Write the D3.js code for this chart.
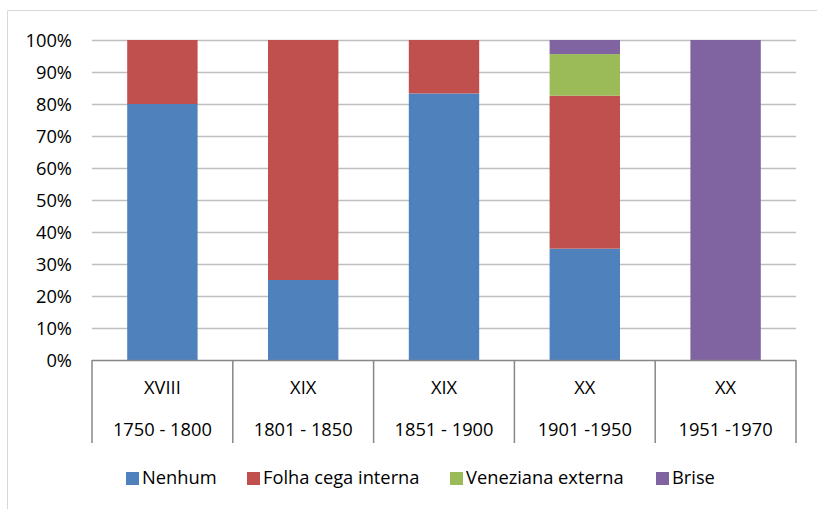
<!DOCTYPE html>
<html><head><meta charset="utf-8">
<script src="https://cdn.jsdelivr.net/npm/d3@7"></script>
<style>body{margin:0;background:#fff}svg{display:block}text{font-family:"Open Sans",Lato,sans-serif;fill:#000}</style>
</head><body><svg id="c" width="817" height="509"></svg>
<script>
const centuries = ["XVIII","XIX","XIX","XX","XX"];
const periods = ["1750 - 1800","1801 - 1850","1851 - 1900","1901 -1950","1951 -1970"];
const seriesNames = ["Nenhum","Folha cega interna","Veneziana externa","Brise"];
const colors = ["#4F81BD","#C0504D","#9BBB59","#8064A2"];
const nenhum = [0.80,0.25,0.833,0.348,0];
const folha = [0.20,0.75,0.167,0.478,0];
const veneziana = [0,0,0,0.130,0];
const brise = [0,0,0,0.044,1.0];
const yTicks = [0,0.1,0.2,0.3,0.4,0.5,0.6,0.7,0.8,0.9,1.0];

const FS = "18.3px";
const svg = d3.select("#c");
const L=92, R=796, T=40, B=360;
const idx = d3.range(periods.length);
const x = d3.scaleBand().domain(idx).range([L,R]).paddingInner(0).paddingOuter(0);
const y = d3.scaleLinear().domain([0,1]).range([B,T]);

// outer chart border (top & left visible)
svg.append("path").attr("d","M7.5,509 V10.5 H817").attr("fill","none").attr("stroke","#D9D9D9").attr("stroke-width",1);

// gridlines
svg.append("g").selectAll("line").data(yTicks.filter(d=>d>0)).join("line")
  .attr("x1",L).attr("x2",R).attr("y1",d=>Math.round(y(d))+0.5).attr("y2",d=>Math.round(y(d))+0.5)
  .attr("stroke","#BFBFBF").attr("stroke-width",1.5);

// y axis labels
const yAxis = d3.axisLeft(y).tickValues(yTicks).tickFormat(d3.format(".0%")).tickSize(0).tickPadding(0);
const ga = svg.append("g").attr("transform",`translate(${L-20},0)`).call(yAxis);
ga.select(".domain").remove();
ga.selectAll("text").attr("font-size",FS).attr("font-family","'Open Sans',Lato,sans-serif").attr("fill","#000").attr("dy","0.36em");

// stacked bars
const rows = idx.map(i=>({i, Nenhum:nenhum[i], "Folha cega interna":folha[i], "Veneziana externa":veneziana[i], Brise:brise[i]}));
const stack = d3.stack().keys(seriesNames)(rows);
const bw = x.bandwidth()*0.5;
svg.append("g").selectAll("g").data(stack).join("g").attr("fill",(d,k)=>colors[k])
  .selectAll("rect").data(d=>d).join("rect")
  .attr("x",d=>x(d.data.i)+(x.bandwidth()-bw)/2)
  .attr("width",bw)
  .attr("y",d=>y(d[1]))
  .attr("height",d=>Math.max(0,y(d[0])-y(d[1])));

// category axis with boxes
const axisG = svg.append("g");
axisG.append("line").attr("x1",L).attr("x2",R).attr("y1",B+0.5).attr("y2",B+0.5).attr("stroke","#878787").attr("stroke-width",1.5);
const bounds = idx.map(i=>x(i)).concat([R]);
axisG.selectAll("line.v").data(bounds).join("line").attr("class","v")
  .attr("x1",d=>d).attr("x2",d=>d).attr("y1",B).attr("y2",443)
  .attr("stroke","#878787").attr("stroke-width",1.5);
axisG.selectAll("text.c").data(idx).join("text").attr("class","c")
  .attr("x",i=>x(i)+x.bandwidth()/2).attr("y",394).attr("text-anchor","middle").attr("font-size",FS).text(i=>centuries[i]);
axisG.selectAll("text.p").data(idx).join("text").attr("class","p")
  .attr("x",i=>x(i)+x.bandwidth()/2).attr("y",436).attr("text-anchor","middle").attr("font-size",FS).text(i=>periods[i]);

// legend
const legX = [126,247,450,656];
const lg = svg.append("g").selectAll("g").data(seriesNames).join("g").attr("transform",(d,k)=>`translate(${legX[k]},0)`);
lg.append("rect").attr("x",0).attr("y",472).attr("width",13).attr("height",13).attr("fill",(d,k)=>colors[k]);
lg.append("text").attr("x",16).attr("y",484).attr("font-size",FS).text(d=>d);
</script></body></html>
